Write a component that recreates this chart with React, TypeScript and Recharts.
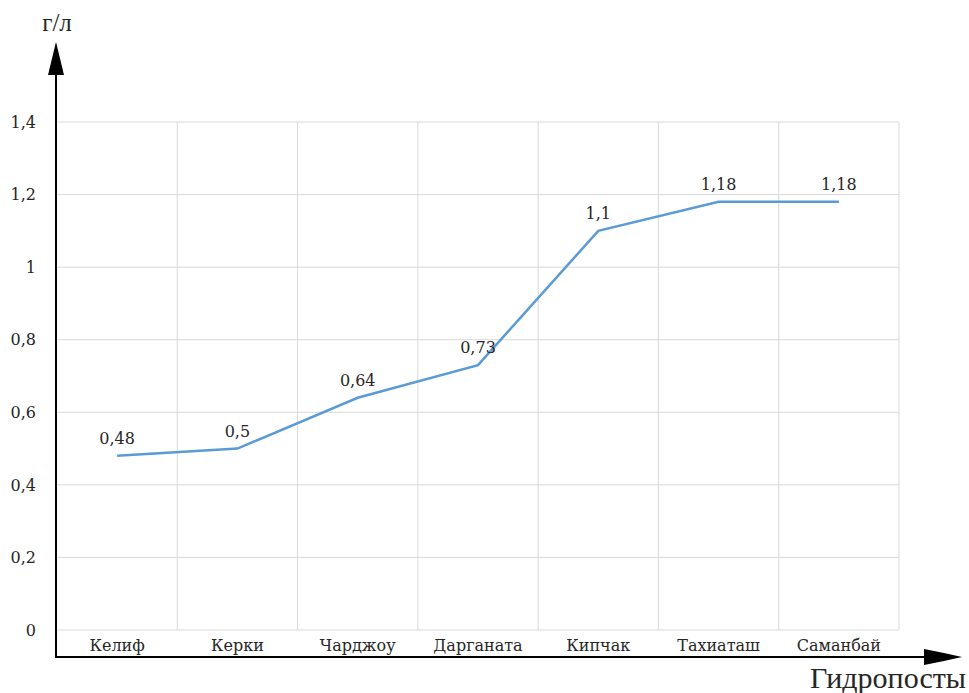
import React from "react";
import { LineChart, Line, XAxis, YAxis, CartesianGrid, LabelList } from "recharts";

const posts = ["Келиф", "Керки", "Чарджоу", "Дарганата", "Кипчак", "Тахиаташ", "Саманбай"];
const salinity = [0.48, 0.5, 0.64, 0.73, 1.1, 1.18, 1.18];
const yTicks = [0, 0.2, 0.4, 0.6, 0.8, 1, 1.2, 1.4];

const W = 969;
const H = 693;
const PLOT_W = 842;
const LABEL_FONT = "'DejaVu Serif', serif";
const TITLE_FONT = "'Liberation Serif', 'Times New Roman', serif";
const TEXT = "#262626";

const fmt = (v: number) => String(v).replace(".", ",");

export default function App() {
  const data = posts.map((name, i) => ({ name, value: salinity[i] }));
  const half = PLOT_W / posts.length / 2;
  return (
    <div style={{ position: "relative", width: W, height: H, background: "#fff" }}>
      <style>{"body{margin:0}"}</style>
      <LineChart width={W} height={H} data={data} margin={{ top: 122, right: 70, left: 0, bottom: 33 }}>
        <CartesianGrid
          stroke="#d9d9d9"
          strokeWidth={1}
          verticalCoordinatesGenerator={({ offset }: any) =>
            posts.map((_, i) => offset.left + ((i + 1) * offset.width) / posts.length)
          }
        />
        <XAxis
          dataKey="name"
          height={30}
          padding={{ left: half, right: half }}
          axisLine={false}
          tickLine={false}
          tickSize={0}
          tickMargin={10}
          interval={0}
          tick={{ fill: TEXT, fontSize: 16, fontFamily: LABEL_FONT }}
        />
        <YAxis
          width={57}
          domain={[0, 1.4]}
          ticks={yTicks}
          axisLine={false}
          tickLine={false}
          tickSize={0}
          tickMargin={21}
          tickFormatter={fmt}
          tick={{ fill: TEXT, fontSize: 16, fontFamily: LABEL_FONT }}
        />
        <Line
          type="linear"
          dataKey="value"
          stroke="#5b9bd5"
          strokeWidth={2.5}
          dot={false}
          isAnimationActive={false}
        >
          <LabelList
            dataKey="value"
            position="top"
            offset={12}
            formatter={(v: any) => fmt(v)}
            style={{ fill: TEXT, fontSize: 16, fontFamily: LABEL_FONT }}
          />
        </Line>
      </LineChart>
      <svg width={W} height={H} style={{ position: "absolute", left: 0, top: 0, pointerEvents: "none" }}>
        <line x1={56} y1={657} x2={56} y2={72} stroke="#000" strokeWidth={2} />
        <polygon points="56,42 64,75 48,75" fill="#000" />
        <line x1={55} y1={657} x2={928} y2={657} stroke="#000" strokeWidth={2} />
        <polygon points="924,649 944,653 962,657 944,661 924,665" fill="#000" />
        <text x={57} y={31} textAnchor="middle" fontSize={25} fontFamily={TITLE_FONT} fill={TEXT}>
          г/л
        </text>
        <text x={966} y={688} textAnchor="end" fontSize={30} fontFamily={TITLE_FONT} fill={TEXT}>
          Гидропосты
        </text>
      </svg>
    </div>
  );
}
